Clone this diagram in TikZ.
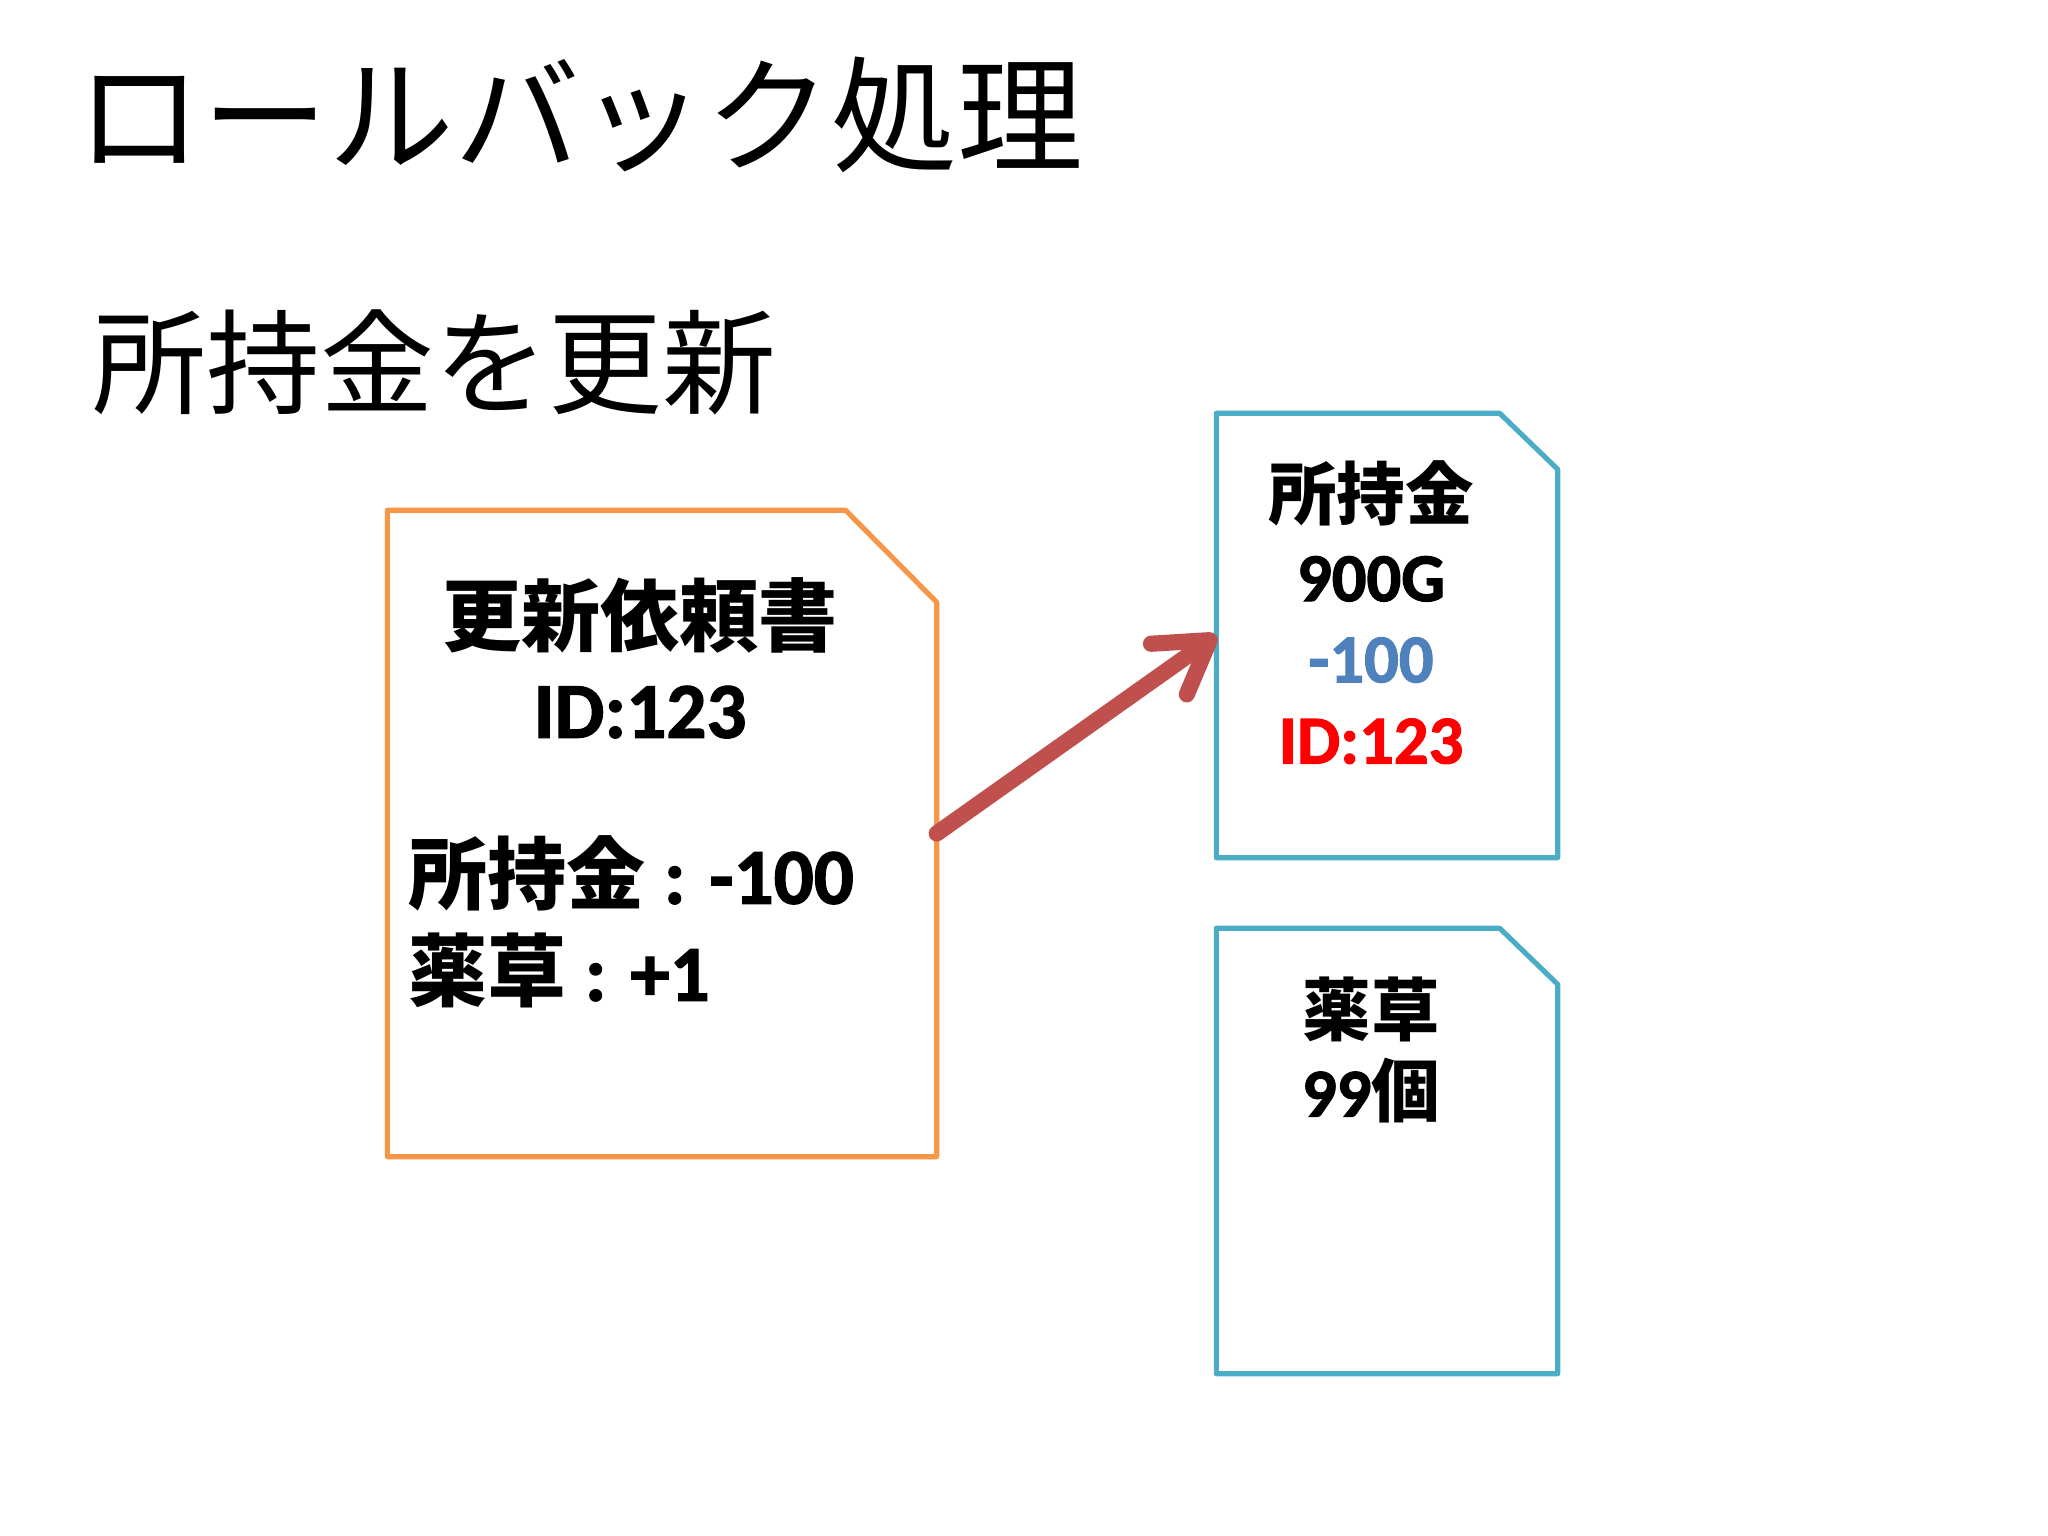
\documentclass[tikz,border=0pt]{standalone}
\usepackage{fontspec}
\setmainfont{Carlito}[BoldFont={* Bold},BoldFeatures={FakeBold=1.6}]
\newfontfamily\jp{Noto Sans CJK JP}
\usetikzlibrary{positioning,arrows.meta}
\definecolor{boxorange}{HTML}{F79646}
\definecolor{boxblue}{HTML}{4BACC6}
\definecolor{arrowred}{HTML}{C0504D}
\definecolor{numblue}{HTML}{4F81BD}
\tikzset{
  docbox/.style={
    rectangle,
    draw=none,
    inner sep=0pt
  },
  edge/.style 2 args={
    draw=#1,
    fill=white,
    line width=1.45pt,
    line join=round
  },
  bigtext/.style={
    font=\bfseries\fontsize{22.5}{26.2}\selectfont,
    inner sep=0pt
  },
  smalltext/.style={
    font=\bfseries\fontsize{19.5}{23.1}\selectfont,
    inner sep=0pt,
    align=center
  }
}

\begin{document}
\begin{tikzpicture}[>=latex]
\useasboundingbox[fill=white] (0,0) rectangle (20.48,-15.36);

\node[anchor=west,inner sep=0pt,font=\jp\fontsize{35.8}{42}\selectfont]
  (title) at (0.76,-1.15) {ロールバック処理};
\node[anchor=west,inner sep=0pt,font=\jp\fontsize{32.4}{38}\selectfont]
  (sub) at (0.92,-3.62) {所持金を更新};

% boxes
\node[docbox,minimum width=5.48cm,minimum height=6.45cm] (req) at (6.62,-8.335) {};
\node[docbox,minimum width=3.40cm,minimum height=4.43cm] (money) at (13.87,-6.355) {};
\node[docbox,minimum width=3.40cm,minimum height=4.44cm] (herb) at (13.87,-11.51) {};

\draw[edge={boxorange}{}] (req.south west) -- (req.north west)
  -- ([xshift=-0.91cm]req.north east) -- ([yshift=-0.92cm]req.north east)
  -- (req.south east) -- cycle;
\draw[edge={boxblue}{}] (money.south west) -- (money.north west)
  -- ([xshift=-0.58cm]money.north east) -- ([yshift=-0.56cm]money.north east)
  -- (money.south east) -- cycle;
\draw[edge={boxblue}{}] (herb.south west) -- (herb.north west)
  -- ([xshift=-0.58cm]herb.north east) -- ([yshift=-0.56cm]herb.north east)
  -- (herb.south east) -- cycle;

% texts
\node[bigtext,align=center] (reqhead) at (6.40,-6.58)
  {{\jp 更新依頼書}\\ID:123};
\node[bigtext,align=left,anchor=west,font=\bfseries\fontsize{22.5}{27.6}\selectfont]
  (reqbody) at (4.08,-9.22) {{\jp 所持金} : -100\\{\jp 薬草} : +1};
\node[smalltext] (moneytxt) at (13.71,-6.125)
  {{\jp 所持金}\\900G\\\textcolor{numblue}{-100}\\\textcolor{red}{ID:123}};
\node[smalltext] (herbtxt) at (13.71,-10.50)
  {{\jp 薬草}\\99{\jp 個}};

\draw[arrowred,line width=4.6pt,line cap=round,line join=round,
  -{Straight Barb[length=0.5cm,width=0.62cm,round]},
  preaction={draw=black!20,transform canvas={shift={(0.03,-0.045)}}}]
  (req.east) -- (money.west);

\end{tikzpicture}
\end{document}
